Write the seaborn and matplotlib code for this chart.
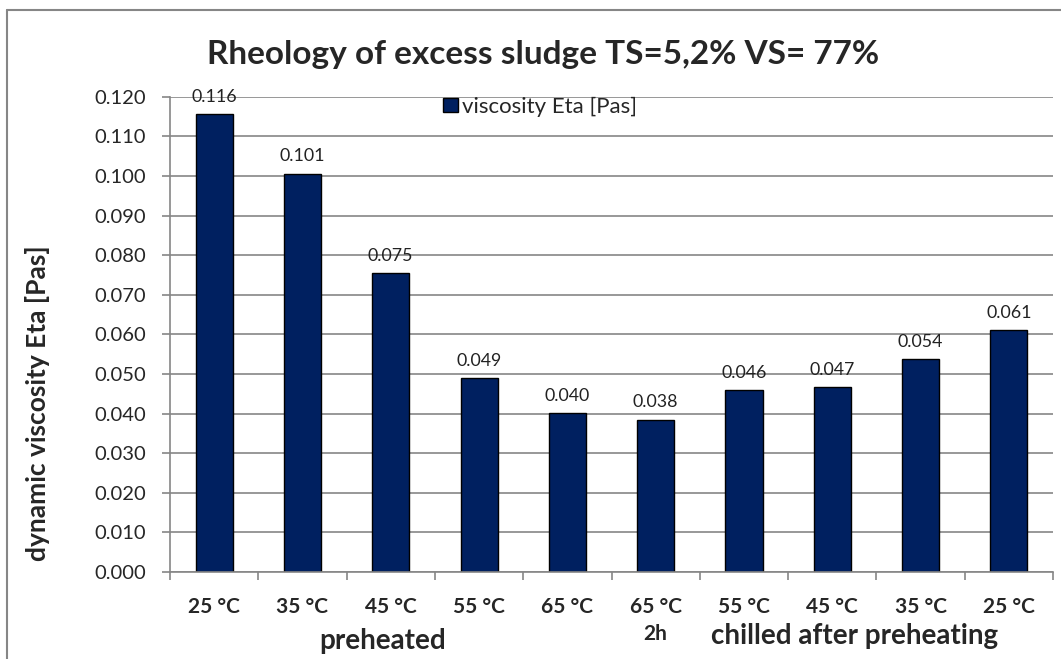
import matplotlib.pyplot as plt
import pandas as pd
import seaborn as sns
from matplotlib.lines import Line2D
from matplotlib.ticker import FixedLocator, FormatStrFormatter

temps = ["25 °C", "35 °C", "45 °C", "55 °C", "65 °C", "65 °C\n2h",
         "55 °C", "45 °C", "35 °C", "25 °C"]
eta = [0.1156, 0.1006, 0.0756, 0.0490, 0.0401, 0.0385, 0.0459, 0.0467, 0.0537, 0.0612]
eta_labels = ["0.116", "0.101", "0.075", "0.049", "0.040", "0.038",
              "0.046", "0.047", "0.054", "0.061"]
yticks = [i / 100 for i in range(13)]

sns.set_style("white")
plt.rcParams["font.family"] = ["Lato", "DejaVu Sans"]

df = pd.DataFrame({"step": range(len(eta)), "eta": eta})

fig = plt.figure(figsize=(10.61, 6.59), dpi=100)
ax = fig.add_axes([0.1602, 0.132, 0.8323, 0.7213])

sns.barplot(data=df, x="step", y="eta", color="#002060", width=0.42,
            edgecolor="black", linewidth=1, saturation=1,
            label="viscosity Eta [Pas]", ax=ax)

# value labels above bars
for i, (v, lab) in enumerate(zip(eta, eta_labels)):
    ax.annotate(lab, (i, v), xytext=(0, 6.5), textcoords="offset points",
                ha="center", va="bottom", fontsize=12.8, color="#222222")

ax.set_ylim(0, 0.12)
ax.set_xlim(-0.5, len(eta) - 0.5)
ax.set_yticks(yticks)
ax.yaxis.set_major_formatter(FormatStrFormatter("%.3f"))
ax.yaxis.grid(True, color="#868686", linewidth=1.2)
ax.set_axisbelow(True)

ax.set_xticks(range(len(temps)))
ax.set_xticklabels(temps, fontweight="bold", fontsize=15, linespacing=1.45)
ax.xaxis.set_minor_locator(FixedLocator([i - 0.5 for i in range(len(temps) + 1)]))
ax.tick_params(axis="x", which="major", length=0, pad=18)
ax.tick_params(axis="x", which="minor", length=6, color="#868686", width=1.2, bottom=True)
ax.tick_params(axis="y", length=6, color="#868686", width=1.2, labelsize=14.5, pad=11, left=True)

for s in ["top", "right"]:
    ax.spines[s].set_visible(False)
for s in ["left", "bottom"]:
    ax.spines[s].set_color("#868686")
    ax.spines[s].set_linewidth(1.2)

ax.set_xlabel("")
ax.set_ylabel("dynamic viscosity Eta [Pas]", fontweight="bold", fontsize=19)
ax.yaxis.set_label_coords(-0.136, 0.356)

ax.legend(loc="upper left", bbox_to_anchor=(0.287, 1.042), frameon=False,
          handlelength=0.65, handleheight=0.65, handletextpad=0.2, fontsize=16)

fig.text(0.512, 0.917, "Rheology of excess sludge TS=5,2% VS= 77%",
         ha="center", va="center", fontsize=24, fontweight="bold")
fig.text(383 / 1061, 1 - 641 / 659, "preheated", ha="center", va="center",
         fontsize=20, fontweight="bold")
fig.text(855 / 1061, 1 - 636 / 659, "chilled after preheating", ha="center",
         va="center", fontsize=20, fontweight="bold")

# outer chart frame
fig.add_artist(Line2D([7 / 1061, 1], [1 - 10 / 659] * 2, color="#868686", lw=1.5))
fig.add_artist(Line2D([7 / 1061] * 2, [0, 1 - 10 / 659], color="#868686", lw=1.5))

fig.savefig("out.png", dpi=100)
